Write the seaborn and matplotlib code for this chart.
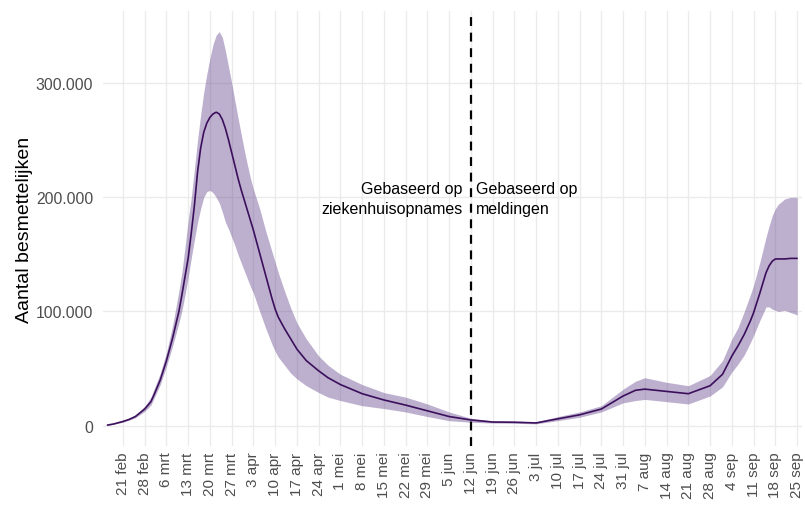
import pandas as pd
import matplotlib
matplotlib.use('Agg')
import matplotlib.pyplot as plt
import matplotlib.ticker as mticker
import seaborn as sns

# estimated number of infectious people (thousands)
dates = ['2020-02-16', '2020-02-18', '2020-02-21', '2020-02-23', '2020-02-25',
         '2020-02-28',
         '2020-03-01', '2020-03-02', '2020-03-04', '2020-03-06', '2020-03-08',
         '2020-03-10', '2020-03-11', '2020-03-12', '2020-03-13', '2020-03-14',
         '2020-03-15', '2020-03-16', '2020-03-17', '2020-03-18', '2020-03-19',
         '2020-03-20', '2020-03-21', '2020-03-22', '2020-03-23', '2020-03-24',
         '2020-03-25', '2020-03-26', '2020-03-27', '2020-03-28', '2020-03-29',
         '2020-03-30', '2020-03-31',
         '2020-04-01', '2020-04-02', '2020-04-03', '2020-04-05', '2020-04-07',
         '2020-04-09', '2020-04-10', '2020-04-11', '2020-04-13', '2020-04-15',
         '2020-04-17', '2020-04-20', '2020-04-24', '2020-04-27',
         '2020-05-01', '2020-05-08', '2020-05-15', '2020-05-22', '2020-05-29',
         '2020-06-05', '2020-06-12', '2020-06-19', '2020-06-26',
         '2020-07-03', '2020-07-10', '2020-07-17', '2020-07-24', '2020-07-31',
         '2020-08-04', '2020-08-07', '2020-08-14', '2020-08-21', '2020-08-28',
         '2020-09-01', '2020-09-04', '2020-09-06', '2020-09-08', '2020-09-10',
         '2020-09-11', '2020-09-13', '2020-09-15', '2020-09-16', '2020-09-17',
         '2020-09-18', '2020-09-19', '2020-09-21', '2020-09-23', '2020-09-25']

center = [0.5, 1.5, 3.7, 5.5, 8, 14.6,
          21, 27, 40, 57, 77, 100, 115, 131, 147, 169, 193, 222, 243, 257,
          265, 270, 273, 274.5, 273, 268, 260, 250, 239, 228, 217, 207, 198,
          189, 180, 171, 151, 131, 111, 102, 95, 85, 76, 67, 57, 48, 42,
          36, 28, 22.5, 18, 13,
          8, 5, 3.2, 3,
          2.4, 6, 9.5, 14.6, 26,
          31, 32, 30, 28, 35,
          45, 61, 70, 80, 92, 99, 116, 134, 140, 144, 146, 146, 146, 146.5,
          146.5]

upper = [0.8, 2, 4.5, 6.5, 9.5, 17,
         25, 32, 46, 64, 88, 118, 135, 157, 180, 200, 225, 250, 272, 292,
         308, 322, 334, 342, 345, 340, 328, 314, 300, 285, 270, 256, 242,
         229, 217, 207, 190, 170, 152, 143, 134, 118, 103, 90, 76, 61, 53,
         45, 36, 29, 25, 19,
         12, 6.5, 4.2, 4,
         3.4, 8, 12, 17.5, 32,
         39, 42, 38, 35, 44,
         57, 76, 86, 100, 115, 123, 143, 165, 175, 184, 190, 194, 198.5, 200,
         200]

lower = [0.3, 1.2, 3, 4.8, 7, 12.5,
         18, 24, 36, 52, 70, 90, 101, 115, 130, 147, 163, 178, 190, 200,
         205, 206, 204, 200, 195, 187, 178, 172, 165, 158, 150, 143, 136,
         129, 122, 116, 100, 85, 71, 65, 60, 53, 46, 41, 35, 29, 25,
         22, 17.5, 15, 12, 8,
         4.4, 3, 2.3, 2.1,
         1.6, 4.4, 7.4, 12, 20,
         22, 23, 21, 19, 26,
         34, 47, 54, 62, 73, 79, 92, 104, 104, 102, 101, 100, 101, 99, 97]

tick_labels = ['21 feb', '28 feb', '6 mrt', '13 mrt', '20 mrt', '27 mrt',
               '3 apr', '10 apr', '17 apr', '24 apr', '1 mei', '8 mei',
               '15 mei', '22 mei', '29 mei', '5 jun', '12 jun', '19 jun',
               '26 jun', '3 jul', '10 jul', '17 jul', '24 jul', '31 jul',
               '7 aug', '14 aug', '21 aug', '28 aug', '4 sep', '11 sep',
               '18 sep', '25 sep']

switch_date = '2020-06-12'
left_text = 'Gebaseerd op\nziekenhuisopnames'
right_text = 'Gebaseerd op\nmeldingen'

df = pd.DataFrame({'datum': pd.to_datetime(dates),
                   'mid': [v * 1000 for v in center],
                   'low': [v * 1000 for v in lower],
                   'high': [v * 1000 for v in upper]})

sns.set_theme(style='whitegrid')
plt.rcParams['font.family'] = ['Liberation Sans', 'DejaVu Sans']

fig = plt.figure(figsize=(8.05, 5.06), dpi=100)
ax = fig.add_axes([0.128, 0.1166, 0.8683, 0.8594])

ax.fill_between(df['datum'], df['low'], df['high'],
                color='#5b3a86', alpha=0.4, linewidth=0, zorder=2)
sns.lineplot(data=df, x='datum', y='mid', ax=ax, color='#3b0f5c',
             linewidth=1.2, zorder=3)

switch = pd.Timestamp(switch_date)
ax.axvline(switch, color='black', linewidth=1.6, linestyle=(0, (4, 3)),
           zorder=4)
ax.text(switch - pd.Timedelta(days=2.7), 199000, left_text, ha='right',
        va='center', fontsize=11.5, linespacing=1.45, color='black')
ax.text(switch + pd.Timedelta(days=1.7), 199000, right_text, ha='left',
        va='center', fontsize=11.5, linespacing=1.45, color='black')

tick_pos = pd.date_range('2020-02-21', periods=len(tick_labels), freq='7D')
ax.set_xticks(tick_pos)
ax.set_xticklabels(tick_labels, rotation=90, fontsize=11, color='#4d4d4d')
ax.set_yticks([0, 100000, 200000, 300000])
ax.yaxis.set_major_formatter(mticker.FuncFormatter(
    lambda v, _: f'{int(v):,}'.replace(',', '.')))
ax.tick_params(axis='y', labelsize=11.3, labelcolor='#4d4d4d', pad=7,
               length=0)
ax.tick_params(axis='x', pad=4, length=0)

ax.set_xlim(pd.Timestamp('2020-02-14 14:00'), pd.Timestamp('2020-09-26 14:00'))
ax.set_ylim(-17800, 363000)
ax.set_xlabel('')
ax.set_ylabel('Aantal besmettelijken', fontsize=14, color='black',
              labelpad=2)

ax.grid(True, color='#ebebeb', linewidth=1.0)
ax.set_facecolor('white')
for s in ax.spines.values():
    s.set_visible(False)

fig.savefig('out.png', dpi=100)
